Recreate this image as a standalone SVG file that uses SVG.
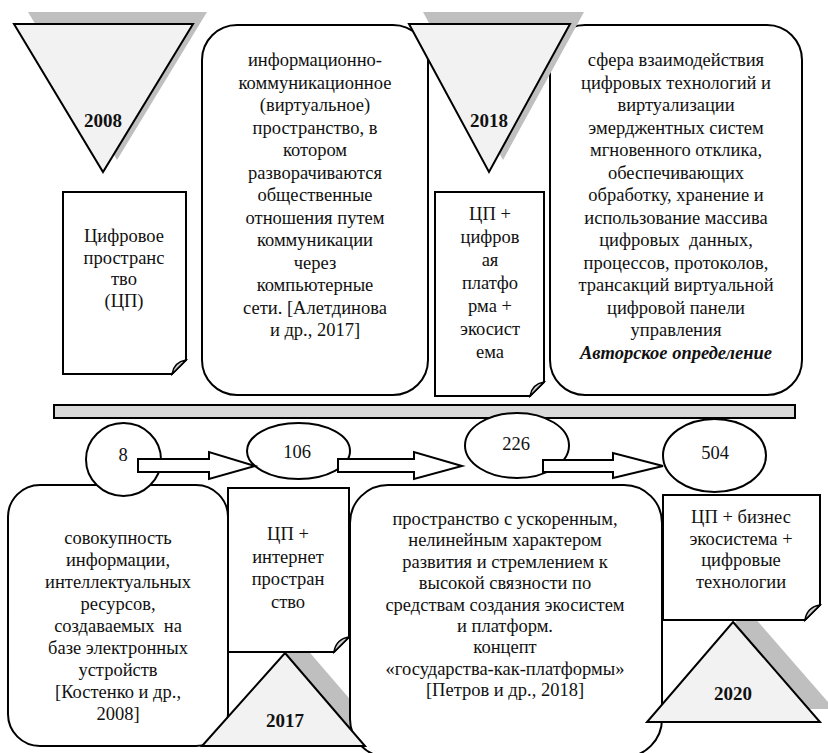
<svg xmlns="http://www.w3.org/2000/svg" width="828" height="753" viewBox="0 0 828 753" font-family="'Liberation Serif', 'Times New Roman', serif" font-size="18.5" text-anchor="middle">
  <style>
    .box { fill: #fff; stroke: #000; stroke-width: 2; }
    .doc { fill: #fff; stroke: #000; stroke-width: 2; stroke-linejoin: miter; }
    .flap { fill: #cfcfcf; stroke: #000; stroke-width: 1.5; }
    .tri { fill: #f2f2f2; stroke: #000; stroke-width: 2; stroke-linejoin: miter; }
    .shadow { fill: #bfbfbf; }
    .bar { fill: #d9d9d9; stroke: #000; stroke-width: 2; }
    .node { fill: #fff; stroke: #000; stroke-width: 2; }
    .arrow { fill: #fff; stroke: #000; stroke-width: 2; stroke-linejoin: miter; }
    .yr { font-weight: bold; font-size: 19px; }
    .bi { font-weight: bold; font-style: italic; }
  </style>

  <!-- horizontal timeline bar -->
  <rect id="timeline-bar" class="bar" x="54" y="405" width="741" height="13"/>

  <!-- upper definitions -->
  <g id="def-2017" fill="#111">
    <rect class="box" x="202" y="25" width="226" height="370" rx="35"/>
    <text x="315" y="66">информационно-</text>
    <text x="315" y="88.5">коммуникационное</text>
    <text x="315" y="111">(виртуальное)</text>
    <text x="315" y="133.5">пространство, в</text>
    <text x="315" y="156">котором</text>
    <text x="315" y="178.5">разворачиваются</text>
    <text x="315" y="201">общественные</text>
    <text x="315" y="223.5">отношения путем</text>
    <text x="315" y="246">коммуникации</text>
    <text x="315" y="268.5">через</text>
    <text x="315" y="291">компьютерные</text>
    <text x="315" y="313.5">сети. [Алетдинова</text>
    <text x="315" y="336">и др., 2017]</text>
  </g>

  <g id="def-author" fill="#111">
    <rect class="box" x="550" y="25" width="252" height="370" rx="35"/>
    <text x="676" y="66">сфера взаимодействия</text>
    <text x="676" y="88.5">цифровых технологий и</text>
    <text x="676" y="111">виртуализации</text>
    <text x="676" y="133.5">эмерджентных систем</text>
    <text x="676" y="156">мгновенного отклика,</text>
    <text x="676" y="178.5">обеспечивающих</text>
    <text x="676" y="201">обработку, хранение и</text>
    <text x="676" y="223.5">использование массива</text>
    <text x="676" y="246">цифровых&#160; данных,</text>
    <text x="676" y="268.5">процессов, протоколов,</text>
    <text x="676" y="291">трансакций виртуальной</text>
    <text x="676" y="313.5">цифровой панели</text>
    <text x="676" y="336">управления</text>
    <text class="bi" x="676" y="358.5">Авторское определение</text>
  </g>

  <!-- upper documents -->
  <g id="doc-2008" fill="#111">
    <path class="doc" d="M63,192 H186 V360 L172,374 H63 Z"/>
    <path class="flap" d="M186,360 Q174,362 172,374 Z"/>
    <text x="124" y="242">Цифровое</text>
    <text x="124" y="263.5">пространс</text>
    <text x="124" y="285">тво</text>
    <text x="124" y="306.5">(ЦП)</text>
  </g>

  <g id="doc-2018" fill="#111">
    <path class="doc" d="M435,192 H544 V382 L530,396 H435 Z"/>
    <path class="flap" d="M544,382 Q532,384 530,396 Z"/>
    <text x="490" y="220">ЦП +</text>
    <text x="490" y="243">цифров</text>
    <text x="490" y="266">ая</text>
    <text x="490" y="289">платфо</text>
    <text x="490" y="312">рма +</text>
    <text x="490" y="335">экосист</text>
    <text x="490" y="358">ема</text>
  </g>

  <!-- upper year markers -->
  <g id="year-2008" fill="#111">
    <polygon class="shadow" points="28,12 207,12 117,160"/>
    <polygon class="tri" points="14,24 193,24 103,172"/>
    <text class="yr" x="103" y="127">2008</text>
  </g>

  <g id="year-2018" fill="#111">
    <polygon class="shadow" points="423,12 584,12 503,160"/>
    <polygon class="tri" points="409,24 570,24 489,172"/>
    <text class="yr" x="489" y="127">2018</text>
  </g>

  <!-- drop shadows of the lower markers sit behind the boxes -->
  <g id="lower-shadows">
    <polygon class="shadow" points="299,640 379,733 216,733"/>
    <polygon class="shadow" points="747,609 834,709 661,709"/>
  </g>

  <!-- lower definitions -->
  <g id="def-2008" fill="#111">
    <rect class="box" x="8" y="485" width="220" height="261" rx="32"/>
    <text x="118" y="544">совокупность</text>
    <text x="118" y="566">информации,</text>
    <text x="118" y="588">интеллектуальных</text>
    <text x="118" y="610">ресурсов,</text>
    <text x="118" y="632">создаваемых&#160; на</text>
    <text x="118" y="654">базе электронных</text>
    <text x="118" y="676">устройств</text>
    <text x="118" y="698">[Костенко и др.,</text>
    <text x="118" y="720">2008]</text>
  </g>

  <g id="def-2018" fill="#111">
    <rect class="box" x="350" y="485" width="312" height="272" rx="38"/>
    <text x="505" y="525">пространство с ускоренным,</text>
    <text x="505" y="546.4">нелинейным характером</text>
    <text x="505" y="567.8">развития и стремлением к</text>
    <text x="505" y="589.2">высокой связности по</text>
    <text x="505" y="610.6">средствам создания экосистем</text>
    <text x="505" y="632">и платформ.</text>
    <text x="505" y="653.4">концепт</text>
    <text x="505" y="674.8">«государства-как-платформы»</text>
    <text x="505" y="696.2">[Петров и др., 2018]</text>
  </g>

  <!-- lower documents -->
  <g id="doc-2017" fill="#111">
    <path class="doc" d="M228,488 H349 V637 L334,652 H228 Z"/>
    <path class="flap" d="M349,637 Q336,639 334,652 Z"/>
    <text x="288" y="540">ЦП +</text>
    <text x="288" y="562.5">интернет</text>
    <text x="288" y="585">простран</text>
    <text x="288" y="607.5">ство</text>
  </g>

  <g id="doc-2020" fill="#111">
    <path class="doc" d="M663,495 H820 V605 L805,620 H663 Z"/>
    <path class="flap" d="M820,605 Q807,607 805,620 Z"/>
    <text x="741" y="523">ЦП + бизнес</text>
    <text x="741" y="544.5">экосистема +</text>
    <text x="741" y="566">цифровые</text>
    <text x="741" y="587.5">технологии</text>
  </g>

  <!-- count nodes -->
  <g id="n8" fill="#111">
    <ellipse class="node" cx="123.5" cy="459.5" rx="37.5" ry="36.5"/>
    <text x="123" y="461">8</text>
  </g>
  <g id="n106" fill="#111">
    <ellipse class="node" cx="298.5" cy="451" rx="51.5" ry="28"/>
    <text x="297" y="458">106</text>
  </g>
  <g id="n226" fill="#111">
    <ellipse class="node" cx="517" cy="445.5" rx="52" ry="32.5"/>
    <text x="516" y="450">226</text>
  </g>
  <g id="n504" fill="#111">
    <ellipse class="node" cx="714.5" cy="455.5" rx="51.5" ry="36.5"/>
    <text x="715" y="459">504</text>
  </g>

  <!-- block arrows between the counts -->
  <g id="connectors">
    <polygon class="arrow" points="138,459 209,459 209,452 255,466 209,479 209,472 138,472"/>
    <polygon class="arrow" points="338,459 414,459 414,452 462,466 414,479 414,472 338,472"/>
    <polygon class="arrow" points="543,460 613,460 613,453 663,466 613,478 613,472 543,472"/>
  </g>

  <!-- lower year markers -->
  <g id="year-2017" fill="#111">
    <polygon class="tri" points="285,653 365,746 202,746"/>
    <text class="yr" x="285" y="727">2017</text>
  </g>

  <g id="year-2020" fill="#111">
    <polygon class="tri" points="733,622 820,722 647,722"/>
    <text class="yr" x="733" y="700">2020</text>
  </g>
</svg>
